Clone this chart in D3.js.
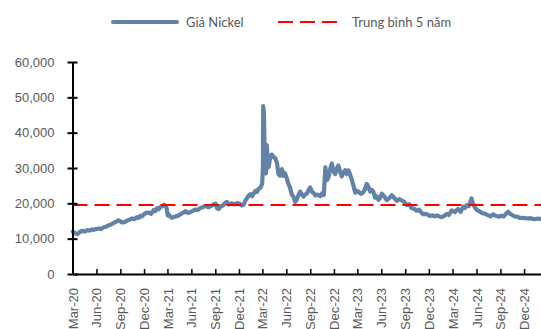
<!DOCTYPE html>
<html>
<head>
<meta charset="utf-8">
<script src="https://cdn.jsdelivr.net/npm/d3@7"></script>
<style>
  html, body { margin: 0; padding: 0; background: #fff; }
  svg { display: block; font-family: Lato, "Open Sans", sans-serif; }
</style>
</head>
<body>
<svg id="chart" width="541" height="329"></svg>
<script>
// LME nickel price (USD/t), sampled roughly weekly
const dates = [
  "2020-03-02","2020-03-12","2020-03-20","2020-03-31","2020-04-10","2020-04-18","2020-04-26","2020-05-06","2020-05-14","2020-05-21",
  "2020-05-30","2020-06-10","2020-06-19","2020-06-29","2020-07-08","2020-07-18","2020-07-27","2020-08-05","2020-08-13","2020-08-25",
  "2020-09-01","2020-09-07","2020-09-17","2020-09-27","2020-10-06","2020-10-16","2020-10-25","2020-11-04","2020-11-10","2020-11-17",
  "2020-11-23","2020-11-30","2020-12-09","2020-12-19","2020-12-28","2021-01-07","2021-01-14","2021-01-20","2021-01-27","2021-02-02",
  "2021-02-10","2021-02-16","2021-02-21","2021-02-26","2021-03-02","2021-03-05","2021-03-11","2021-03-18","2021-03-26","2021-04-07",
  "2021-04-16","2021-04-26","2021-05-03","2021-05-09","2021-05-18","2021-05-28","2021-06-07","2021-06-16","2021-06-25","2021-07-06",
  "2021-07-15","2021-07-25","2021-08-06","2021-08-16","2021-08-26","2021-09-02","2021-09-08","2021-09-14","2021-09-20","2021-09-30",
  "2021-10-10","2021-10-16","2021-10-22","2021-11-04","2021-11-14","2021-11-24","2021-12-03","2021-12-13","2021-12-20","2021-12-25",
  "2022-01-07","2022-01-14","2022-01-20","2022-01-27","2022-02-01","2022-02-08","2022-02-14","2022-02-21","2022-02-28","2022-03-03",
  "2022-03-04","2022-03-07","2022-03-09","2022-03-12","2022-03-15","2022-03-18","2022-03-22","2022-03-25","2022-03-30","2022-04-06",
  "2022-04-12","2022-04-19","2022-04-26","2022-05-02","2022-05-08","2022-05-15","2022-05-21","2022-05-27","2022-06-03","2022-06-08",
  "2022-06-15","2022-06-22","2022-06-29","2022-07-05","2022-07-12","2022-07-18","2022-07-24","2022-08-01","2022-08-06","2022-08-13",
  "2022-08-19","2022-08-26","2022-09-01","2022-09-08","2022-09-14","2022-09-21","2022-09-28","2022-10-03","2022-10-10","2022-10-16",
  "2022-10-23","2022-10-29","2022-11-04","2022-11-10","2022-11-16","2022-11-23","2022-11-29","2022-12-06","2022-12-12","2022-12-18",
  "2022-12-24","2022-12-31","2023-01-06","2023-01-13","2023-01-19","2023-01-26","2023-02-01","2023-02-08","2023-02-14","2023-02-21",
  "2023-02-27","2023-03-05","2023-03-14","2023-03-24","2023-03-30","2023-04-06","2023-04-12","2023-04-19","2023-04-26","2023-05-02",
  "2023-05-08","2023-05-14","2023-05-21","2023-05-27","2023-06-03","2023-06-12","2023-06-22","2023-07-01","2023-07-11","2023-07-21",
  "2023-07-31","2023-08-09","2023-08-19","2023-08-28","2023-09-07","2023-09-16","2023-09-26","2023-10-05","2023-10-15","2023-10-25",
  "2023-11-02","2023-11-09","2023-11-20","2023-11-28","2023-12-05","2023-12-15","2023-12-23","2023-12-31","2024-01-10","2024-01-19",
  "2024-01-28","2024-02-08","2024-02-16","2024-02-27","2024-03-05","2024-03-10","2024-03-17","2024-03-23","2024-04-01","2024-04-11",
  "2024-04-18","2024-04-24","2024-05-02","2024-05-07","2024-05-13","2024-05-17","2024-05-21","2024-05-26","2024-06-04","2024-06-14",
  "2024-06-24","2024-07-03","2024-07-10","2024-07-16","2024-07-25","2024-08-04","2024-08-10","2024-08-17","2024-08-27","2024-09-05",
  "2024-09-14","2024-09-24","2024-10-01","2024-10-07","2024-10-16","2024-10-26","2024-11-05","2024-11-14","2024-11-21","2024-12-03",
  "2024-12-16","2024-12-25","2025-01-04","2025-01-13","2025-01-23","2025-02-04"
];
const prices = [
  12000,11500,11300,12000,12200,12000,12400,12300,12600,12500,
  12700,12900,12700,13200,13400,13800,14000,14400,14700,15200,
  14900,14600,14700,15100,15400,15700,15500,16100,15900,16500,
  16300,16900,17300,17400,17000,18100,17800,18600,18300,19000,
  19200,19600,19300,18600,16600,16900,16300,15900,16100,16400,
  16700,17200,17400,17800,17300,17500,17900,18200,18100,18700,
  18900,19300,18900,19300,19700,19900,18600,18400,19000,19400,
  20200,20400,19700,20000,19700,20100,19900,19400,19700,20700,
  22200,22600,22000,22800,23500,23200,24100,24400,25500,30000,
  47500,45500,37000,29000,28500,36500,31000,30200,32500,33800,
  33200,32800,31500,28200,27800,29700,27800,28500,27000,25700,
  24500,22500,21800,20400,21200,22400,23300,22400,21900,22500,
  22800,23800,24500,23200,22900,22200,22500,22300,22000,22800,
  22400,30200,26600,27300,29500,31300,29000,28300,29800,30700,
  29200,27600,28600,29400,28300,29300,28200,26600,25000,23000,
  23600,23300,22700,23100,24000,25500,24800,23300,23800,23200,
  21600,22000,21000,21500,22700,22000,20900,21400,22300,21500,
  20700,21200,20800,20400,19500,19800,18600,18500,17900,18200,
  17400,16900,17000,16700,16400,16600,16300,16600,16300,16100,
  16400,17000,16700,18000,17800,17500,18100,18400,17600,19000,
  18700,19500,19200,20200,21400,20200,19600,18800,18000,17700,
  17200,17100,16800,16600,16300,16900,16600,16400,16200,16500,
  16300,17200,17600,17100,16700,16300,16200,15900,15900,15800,
  15700,15800,15600,15500,15700,15500
];
// Five-year average price
const average5y = 19500;

const yTicks = [0, 10000, 20000, 30000, 40000, 50000, 60000];
const seriesLabels = ["Giá Nickel", "Trung bình 5 năm"];

const parse = d3.timeParse("%Y-%m-%d");
const data = dates.map((d, i) => ({ date: parse(d), value: prices[i] }));

const svg = d3.select("#chart");
const plotLeft = 72.5, plotRight = 541, plotTop = 62, plotBottom = 274;

const x = d3.scaleTime()
  .domain([new Date(2020, 2, 1), new Date(2025, 1, 4)])
  .range([plotLeft, plotRight]);
const y = d3.scaleLinear().domain([0, 60000]).range([plotBottom, plotTop]);

const xTicks = d3.timeMonth.range(new Date(2020, 2, 1), new Date(2025, 0, 1), 3);
const textColor = "#595959";
const priceColor = "#6382a8";

// price line
const line = d3.line().x(d => x(d.date)).y(d => y(d.value));
svg.append("path")
  .datum(data)
  .attr("fill", "none")
  .attr("stroke", priceColor)
  .attr("stroke-width", 4.2)
  .attr("stroke-linejoin", "round")
  .attr("stroke-linecap", "round")
  .attr("d", line);

// five-year average
svg.append("line")
  .attr("x1", x.range()[0]).attr("x2", x.range()[1])
  .attr("y1", y(average5y)).attr("y2", y(average5y))
  .attr("stroke", "#ff0000")
  .attr("stroke-width", 2)
  .attr("stroke-dasharray", "15,7");

// y axis
const yAxis = svg.append("g")
  .attr("transform", `translate(${plotLeft},0)`)
  .call(d3.axisLeft(y).tickValues(yTicks).tickSize(5).tickSizeOuter(0)
    .tickFormat(d3.format(",")).tickPadding(13));
yAxis.select(".domain").attr("stroke", "#000").attr("stroke-width", 2);
yAxis.selectAll(".tick line").attr("x1", -5).attr("x2", 5).attr("stroke", "#000").attr("stroke-width", 2);
yAxis.selectAll(".tick text").attr("fill", textColor).style("font-size", "13px");

// x axis
const xAxis = svg.append("g")
  .attr("transform", `translate(0,${plotBottom})`)
  .call(d3.axisBottom(x).tickValues(xTicks).tickSize(-5).tickSizeOuter(0)
    .tickFormat(d3.timeFormat("%b-%y")));
xAxis.select(".domain").attr("stroke", "#000").attr("stroke-width", 2);
xAxis.selectAll(".tick line").attr("stroke", "#000").attr("stroke-width", 1.5);
xAxis.selectAll(".tick text")
  .attr("fill", textColor)
  .style("font-size", "13px")
  .attr("text-anchor", "end")
  .attr("transform", "rotate(-90)")
  .attr("x", -14)
  .attr("y", 0)
  .attr("dy", "0.35em");

// legend
const legend = svg.append("g").style("font-size", "13px").attr("fill", textColor);
legend.append("line")
  .attr("x1", 113).attr("x2", 177).attr("y1", 22).attr("y2", 22)
  .attr("stroke", priceColor).attr("stroke-width", 4).attr("stroke-linecap", "round");
legend.append("text").attr("x", 186).attr("y", 22).attr("dy", "0.35em").text(seriesLabels[0]);
legend.append("line")
  .attr("x1", 278).attr("x2", 343).attr("y1", 22).attr("y2", 22)
  .attr("stroke", "#ff0000").attr("stroke-width", 2).attr("stroke-dasharray", "15,7");
legend.append("text").attr("x", 352).attr("y", 22).attr("dy", "0.35em").text(seriesLabels[1]);
</script>
</body>
</html>
